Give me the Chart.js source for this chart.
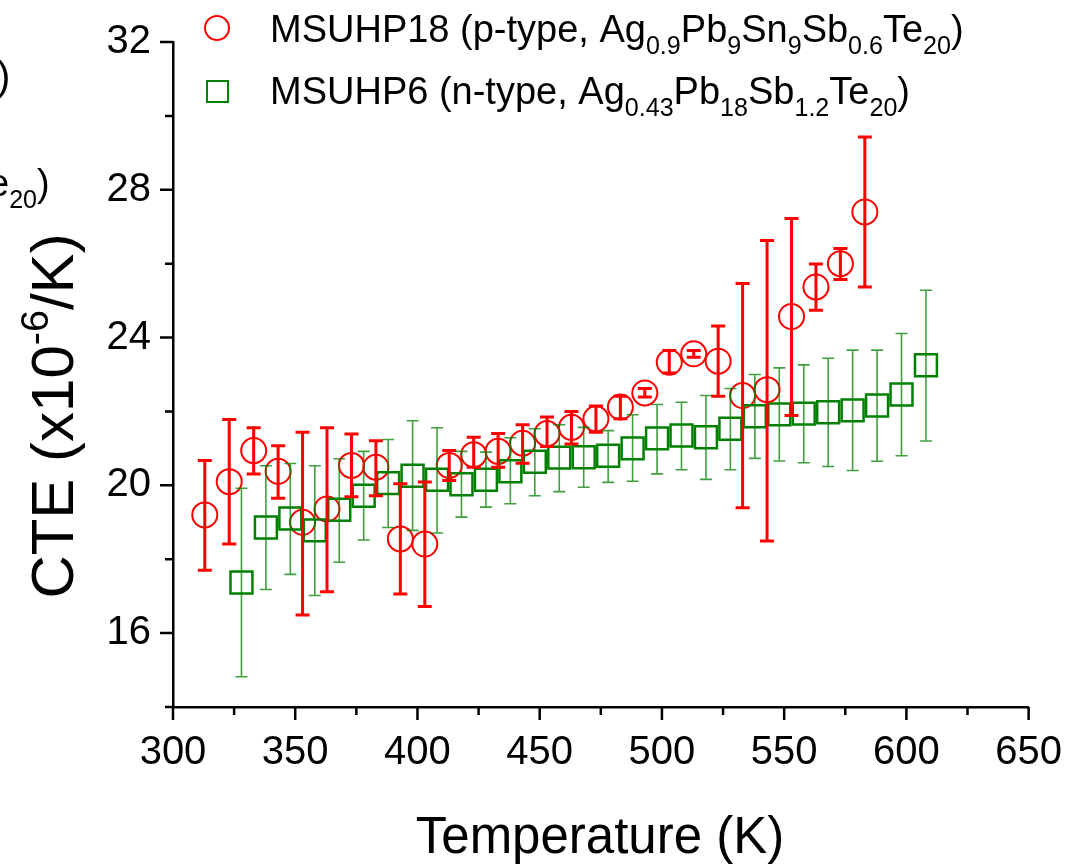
<!DOCTYPE html>
<html>
<head>
<meta charset="utf-8">
<script src="https://cdn.jsdelivr.net/npm/chart.js@4.4.1/dist/chart.umd.min.js"></script>
<style>
  html, body { margin: 0; padding: 0; background: #fff; }
  #wrap { width: 1076px; height: 864px; }
</style>
</head>
<body>
<div id="wrap"><canvas id="cteChart" width="1076" height="864"></canvas></div>
<script>
// MSUHP18, p-type (red circles)
const pTemp = [313, 323, 333, 343, 353, 363, 373, 383, 393, 403, 413, 423, 433, 443,
               453, 463, 473, 483, 493, 503, 513, 523, 533, 543, 553, 563, 573, 583];
const pCte  = [19.2, 20.1, 20.94, 20.38, 19.0, 19.36, 20.54, 20.49, 18.55, 18.41, 20.54, 20.83, 20.92, 21.14,
               21.4, 21.57, 21.8, 22.12, 22.5, 23.33, 23.56, 23.36, 22.43, 22.59, 24.57, 25.37, 26.0, 27.4];
const pLow  = [17.7, 18.41, 20.31, 19.65, 16.49, 17.12, 19.69, 19.72, 17.06, 16.72, 20.13, 20.49, 20.49, 20.6,
               21.05, 21.12, 21.44, 21.8, 22.39, 23.04, 23.47, 22.41, 19.39, 18.49, 21.89, 24.74, 25.57, 25.37];
const pHigh = [20.67, 21.78, 21.56, 21.07, 21.44, 21.56, 21.39, 21.21, 20.04, 20.09, 20.94, 21.3, 21.4, 21.64,
               21.85, 22.0, 22.15, 22.41, 22.62, 23.65, 23.65, 24.31, 25.46, 26.63, 27.22, 25.99, 26.41, 29.43];

// MSUHP6, n-type (green squares)
const nTemp = [328, 338, 348, 358, 368, 378, 388, 398, 408, 418, 428, 438, 448, 458, 468,
               478, 488, 498, 508, 518, 528, 538, 548, 558, 568, 578, 588, 598, 608];
const nCte  = [17.37, 18.86, 19.1, 18.78, 19.34, 19.72, 20.06, 20.26, 20.15, 20.03, 20.15, 20.38, 20.64, 20.75, 20.76,
               20.8, 21.0, 21.27, 21.35, 21.3, 21.53, 21.87, 21.92, 21.94, 21.98, 22.03, 22.16, 22.46, 23.25];
const nLow  = [14.82, 17.18, 17.59, 17.02, 17.92, 18.52, 18.86, 18.78, 18.71, 19.14, 19.41, 19.5, 19.72, 19.83, 19.95,
               20.08, 20.11, 20.31, 20.42, 20.16, 20.42, 20.73, 20.66, 20.61, 20.51, 20.4, 20.65, 20.8, 21.2];
const nHigh = [19.92, 20.53, 20.59, 20.53, 20.72, 20.92, 21.24, 21.75, 21.56, 20.92, 20.9, 21.29, 21.53, 21.64, 21.57,
               21.48, 21.91, 22.19, 22.25, 22.43, 22.62, 23.0, 23.18, 23.26, 23.44, 23.66, 23.66, 24.11, 25.28];

const xMajor = [300, 350, 400, 450, 500, 550, 600, 650];
const xMinor = [325, 375, 425, 475, 525, 575, 625];
const yMajor = [16, 20, 24, 28, 32];
const yMinor = [14, 18, 22, 26, 30];

const FONT = "'Liberation Sans', Arial, sans-serif";
const RED = '#ff0000';
const GREEN = '#008000';

function points(xs, ys) {
    return xs.map((v, i) => ({ x: v, y: ys[i] }));
}

// draw text pieces, some of them as subscript / superscript
function richText(ctx, parts, x, y, size) {
    let cx = x;
    parts.forEach(([txt, kind]) => {
        const s = kind ? size * 0.66 : size;
        const dy = kind === 'sub' ? size * 0.32 : kind === 'sup' ? -size * 0.42 : 0;
        ctx.font = s + 'px ' + FONT;
        ctx.fillText(txt, cx, y + dy);
        cx += ctx.measureText(txt).width;
    });
    return cx - x;
}
function richWidth(ctx, parts, size) {
    let w = 0;
    parts.forEach(([txt, kind]) => {
        ctx.font = (kind ? size * 0.66 : size) + 'px ' + FONT;
        w += ctx.measureText(txt).width;
    });
    return w;
}

// vertical error bars with caps
const errorBars = {
    id: 'errorBars',
    afterDatasetsDraw(chart) {
        const { ctx, scales: { x, y } } = chart;
        chart.data.datasets.slice().reverse().forEach(ds => {
            const eb = ds.errorBars;
            ctx.save();
            ctx.strokeStyle = eb.color;
            ctx.lineWidth = eb.width;
            ds.data.forEach((pt, i) => {
                const px = x.getPixelForValue(pt.x);
                const yl = y.getPixelForValue(eb.low[i]);
                const yh = y.getPixelForValue(eb.high[i]);
                ctx.beginPath();
                ctx.moveTo(px, yl); ctx.lineTo(px, yh);
                ctx.moveTo(px - eb.cap, yl); ctx.lineTo(px + eb.cap, yl);
                ctx.moveTo(px - eb.cap, yh); ctx.lineTo(px + eb.cap, yh);
                ctx.stroke();
            });
            ctx.restore();
        });
    }
};

// outward ticks (major + minor), axis titles, legend
const decorations = {
    id: 'decorations',
    afterDraw(chart) {
        const { ctx, chartArea: a, scales: { x, y } } = chart;
        ctx.save();
        ctx.strokeStyle = '#000';
        ctx.lineWidth = 2.5;
        ctx.beginPath();
        xMajor.forEach(v => { const p = x.getPixelForValue(v); ctx.moveTo(p, a.bottom); ctx.lineTo(p, a.bottom + 13); });
        xMinor.forEach(v => { const p = x.getPixelForValue(v); ctx.moveTo(p, a.bottom); ctx.lineTo(p, a.bottom + 8); });
        yMajor.forEach(v => { const p = y.getPixelForValue(v); ctx.moveTo(a.left, p); ctx.lineTo(a.left - 13, p); });
        yMinor.forEach(v => { const p = y.getPixelForValue(v); ctx.moveTo(a.left, p); ctx.lineTo(a.left - 8, p); });
        ctx.stroke();

        ctx.fillStyle = '#000';
        ctx.textBaseline = 'alphabetic';
        ctx.textAlign = 'left';

        // x title
        ctx.font = '51px ' + FONT;
        const xt = 'Temperature (K)';
        ctx.fillText(xt, 600 - ctx.measureText(xt).width / 2, 853);

        // y title, rotated
        const yParts = [['CTE (x10'], ['-6', 'sup'], ['/K)']];
        const yw = richWidth(ctx, yParts, 60);
        ctx.save();
        ctx.translate(73, 416);
        ctx.rotate(-Math.PI / 2);
        richText(ctx, yParts, -yw / 2, 0, 60);
        ctx.restore();

        // legend
        ctx.lineWidth = 2;
        ctx.strokeStyle = RED;
        ctx.beginPath();
        ctx.arc(217, 28, 12, 0, Math.PI * 2);
        ctx.stroke();
        ctx.strokeStyle = GREEN;
        ctx.strokeRect(207, 81, 21, 21);

        richText(ctx, [['MSUHP18 (p-type, Ag'], ['0.9', 'sub'], ['Pb'], ['9', 'sub'], ['Sn'], ['9', 'sub'],
                       ['Sb'], ['0.6', 'sub'], ['Te'], ['20', 'sub'], [')']], 270, 42, 38);
        richText(ctx, [['MSUHP6 (n-type, Ag'], ['0.43', 'sub'], ['Pb'], ['18', 'sub'], ['Sb'], ['1.2', 'sub'],
                       ['Te'], ['20', 'sub'], [')']], 270, 104, 38);

        // cut-off text from the neighbouring panel
        richText(ctx, [[')']], -3, 90, 40);
        richText(ctx, [['e'], ['20', 'sub'], [')']], -12, 196, 38);
        ctx.restore();
    }
};

const ctx = document.getElementById('cteChart').getContext('2d');
const cteChart = new Chart(ctx, {
    type: 'scatter',
    data: {
        datasets: [
            {
                label: 'MSUHP6 (n-type)',
                data: points(nTemp, nCte),
                pointStyle: 'rect',
                pointRadius: 15.5,
                pointHoverRadius: 15.5,
                borderColor: GREEN,
                backgroundColor: 'rgba(0,0,0,0)',
                pointBorderWidth: 2.5,
                errorBars: { low: nLow, high: nHigh, color: 'rgba(0,128,0,0.75)', width: 1.6, cap: 6 }
            },
            {
                label: 'MSUHP18 (p-type)',
                data: points(pTemp, pCte),
                pointStyle: 'circle',
                pointRadius: 12.5,
                pointHoverRadius: 12.5,
                borderColor: RED,
                backgroundColor: 'rgba(0,0,0,0)',
                pointBorderWidth: 2,
                errorBars: { low: pLow, high: pHigh, color: RED, width: 3, cap: 7 }
            }
        ]
    },
    options: {
        responsive: false,
        animation: false,
        layout: { padding: { left: 0, top: 42, right: 35, bottom: 0 } },
        plugins: {
            legend: { display: false },
            tooltip: { enabled: false }
        },
        scales: {
            x: {
                type: 'linear',
                min: 300,
                max: 650,
                afterFit: s => { s.height = 157; },
                grid: { display: false },
                border: { display: true, color: '#000', width: 2.5 },
                ticks: {
                    stepSize: 50,
                    padding: 14,
                    color: '#000',
                    font: { size: 40, family: FONT }
                }
            },
            y: {
                type: 'linear',
                min: 14,
                max: 32,
                afterFit: s => { s.width = 173; },
                afterBuildTicks: s => { s.ticks = yMajor.map(v => ({ value: v })); },
                grid: { display: false },
                border: { display: true, color: '#000', width: 2.5 },
                ticks: {
                    padding: 14,
                    color: '#000',
                    font: { size: 40, family: FONT }
                }
            }
        }
    },
    plugins: [errorBars, decorations]
});
</script>
</body>
</html>
